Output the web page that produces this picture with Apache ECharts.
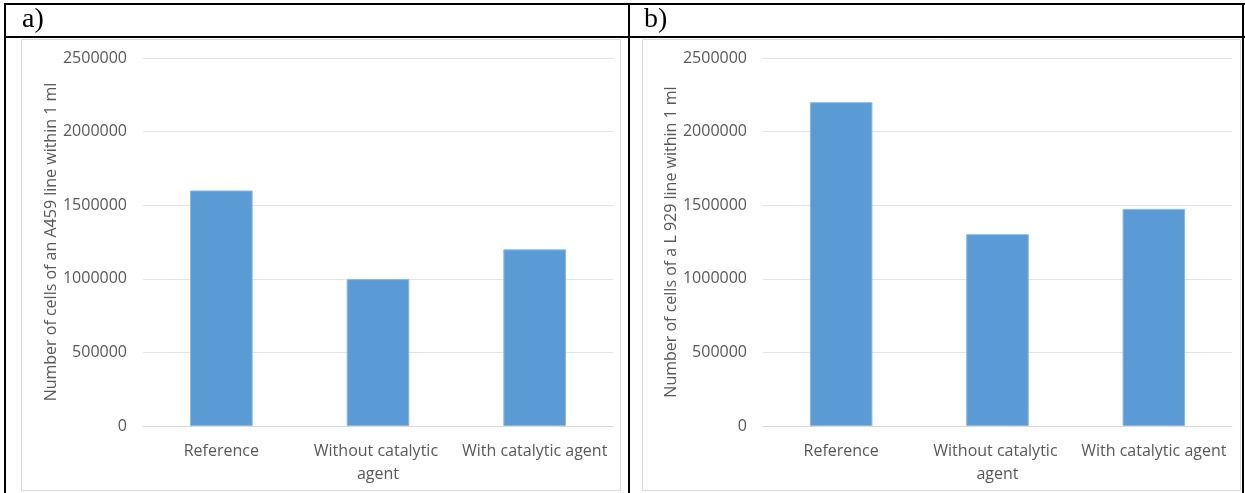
<!DOCTYPE html>
<html>
<head>
<meta charset="utf-8">
<script src="https://cdn.jsdelivr.net/npm/echarts@6/dist/echarts.min.js"></script>
<style>
html,body{margin:0;padding:0;background:#fff;}
#c{width:1245px;height:493px;}
</style>
</head>
<body>
<div id="c"></div>
<script>
const categories = ['Reference', 'Without catalytic agent', 'With catalytic agent'];
const valuesA459 = [1600000, 998000, 1200000];
const valuesL929 = [2200000, 1303000, 1475000];
const yTicks = [0, 500000, 1000000, 1500000, 2000000, 2500000];
const panelTitles = ['a)', 'b)'];
const yNames = ['Number of cells of an A459 line within 1 ml', 'Number of cells of a L 929 line within 1 ml'];

const FONT = 'Open Sans';
const TXT = '#595959';
const FS = 16;
const yMin = yTicks[0], yMax = yTicks[yTicks.length - 1], yStep = yTicks[1] - yTicks[0];

function xAxis(i) {
  return {
    type: 'category', gridIndex: i, data: categories,
    axisTick: {show: false},
    axisLine: {lineStyle: {color: '#d9d9d9', width: 1}},
    axisLabel: {color: TXT, fontFamily: FONT, fontSize: FS, margin: 14, interval: 0,
      width: 156, overflow: 'break', lineHeight: 23}
  };
}
function yAxis(i) {
  return {
    type: 'value', gridIndex: i, min: yMin, max: yMax, interval: yStep,
    name: yNames[i], nameLocation: 'middle', nameGap: 84,
    nameTextStyle: {color: TXT, fontFamily: FONT, fontSize: FS},
    axisLine: {show: false}, axisTick: {show: false},
    axisLabel: {color: TXT, fontFamily: FONT, fontSize: FS, margin: 16,
      formatter: function (v) { return String(v); }},
    splitLine: {lineStyle: {color: '#e4e4e4', width: 1}}
  };
}
function bars(i, data) {
  return {
    type: 'bar', xAxisIndex: i, yAxisIndex: i, data: data, barWidth: '40%',
    itemStyle: {color: '#5b9bd5', borderColor: '#8cb8e4', borderWidth: 1},
    silent: true
  };
}

const chart = echarts.init(document.getElementById('c'), null, {renderer: 'canvas'});
chart.setOption({
  animation: false,
  backgroundColor: '#fff',
  grid: [
    {left: 143, top: 58, width: 470, height: 368},
    {left: 763, top: 58, width: 469, height: 368}
  ],
  xAxis: [xAxis(0), xAxis(1)],
  yAxis: [yAxis(0), yAxis(1)],
  series: [bars(0, valuesA459), bars(1, valuesL929)],
  graphic: [
    {type: 'rect', shape: {x: 21.5, y: 39.5, width: 599, height: 451}, style: {fill: null, stroke: '#d9d9d9', lineWidth: 1}, z: -1},
    {type: 'rect', shape: {x: 642.5, y: 39.5, width: 598, height: 451}, style: {fill: null, stroke: '#d9d9d9', lineWidth: 1}, z: -1},
    {type: 'line', shape: {x1: 4, y1: 4, x2: 1245, y2: 4}, style: {stroke: '#000', lineWidth: 2}},
    {type: 'line', shape: {x1: 4, y1: 37, x2: 1245, y2: 37}, style: {stroke: '#000', lineWidth: 2}},
    {type: 'line', shape: {x1: 5, y1: 3, x2: 5, y2: 493}, style: {stroke: '#000', lineWidth: 2}},
    {type: 'line', shape: {x1: 629, y1: 3, x2: 629, y2: 493}, style: {stroke: '#000', lineWidth: 2}},
    {type: 'line', shape: {x1: 1243, y1: 3, x2: 1243, y2: 493}, style: {stroke: '#000', lineWidth: 2}},
    {type: 'text', left: 22, top: 6, style: {text: panelTitles[0], fill: '#000', font: '28px "Liberation Serif"'}},
    {type: 'text', left: 644, top: 6, style: {text: panelTitles[1], fill: '#000', font: '28px "Liberation Serif"'}}
  ]
});
</script>
</body>
</html>
